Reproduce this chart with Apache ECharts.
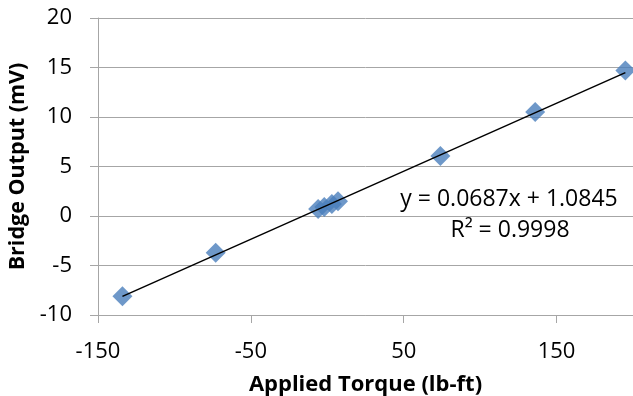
<!DOCTYPE html>
<html>
<head>
<meta charset="utf-8">
<script src="https://cdn.jsdelivr.net/npm/echarts@6/dist/echarts.min.js"></script>
<style>
  html, body { margin: 0; padding: 0; background: #fff; }
  #board { width: 633px; height: 396px; }
</style>
</head>
<body>
<div id="board"></div>
<script>
// 数据
var torque = [-134, -73, -6, -2, 3, 7, 74, 136, 195];
var output = [-8.1, -3.7, 0.7, 0.9, 1.2, 1.5, 6.05, 10.5, 14.7];
// trendline from the chart's own equation
var slope = 0.0687;
var intercept = 1.0845;
var trendX = [-134, 195];
var eqText = "y = 0.0687x + 1.0845";
var r2Text = "R\u00b2 = 0.9998";

var font = "'Open Sans', 'Noto Sans', sans-serif";
var gray = "#a6a6a6";

var points = torque.map(function (x, i) { return [x, output[i]]; });
var trend = trendX.map(function (x) { return [x, slope * x + intercept]; });

var myChart = echarts.init(document.getElementById("board"));
myChart.setOption({
  animation: false,
  grid: { left: 98, right: 0, top: 18, bottom: 81, containLabel: false, outerBoundsMode: "none" },
  xAxis: {
    type: "value",
    min: -150,
    max: 200,
    interval: 100,
    name: "Applied Torque (lb-ft)",
    nameLocation: "middle",
    nameGap: 59,
    nameTextStyle: { fontFamily: font, fontSize: 22, fontWeight: "bold", color: "#000" },
    axisLine: { onZero: false, lineStyle: { color: gray, width: 1 } },
    axisTick: { show: true, length: 8, lineStyle: { color: gray } },
    splitLine: { show: false },
    axisLabel: { margin: 26, showMaxLabel: false, fontFamily: font, fontSize: 22, color: "#000" }
  },
  yAxis: {
    type: "value",
    min: -10,
    max: 20,
    interval: 5,
    name: "Bridge Output (mV)",
    nameLocation: "middle",
    nameGap: 63,
    nameTextStyle: { fontFamily: font, fontSize: 21.5, fontWeight: "bold", color: "#000" },
    axisLine: { show: true, onZero: false, lineStyle: { color: gray, width: 1 } },
    axisTick: { show: true, length: 8, lineStyle: { color: gray } },
    splitLine: { show: true, lineStyle: { color: gray, width: 1 } },
    axisLabel: { margin: 26, fontFamily: font, fontSize: 22, color: "#000" }
  },
  series: [
    {
      type: "scatter",
      data: points,
      symbol: "diamond",
      symbolSize: 20,
      itemStyle: { color: "#4a7ebb" },
      z: 2
    },
    {
      type: "line",
      data: trend,
      showSymbol: false,
      symbol: "none",
      lineStyle: { color: "#000", width: 1.5 },
      z: 3
    }
  ],
  graphic: [
    {
      type: "text",
      x: 509,
      y: 188,
      style: { text: eqText, font: "23px " + font, fill: "#000", textAlign: "center" }
    },
    {
      type: "text",
      x: 510,
      y: 219,
      style: { text: r2Text, font: "23px " + font, fill: "#000", textAlign: "center" }
    }
  ]
});
</script>
</body>
</html>
